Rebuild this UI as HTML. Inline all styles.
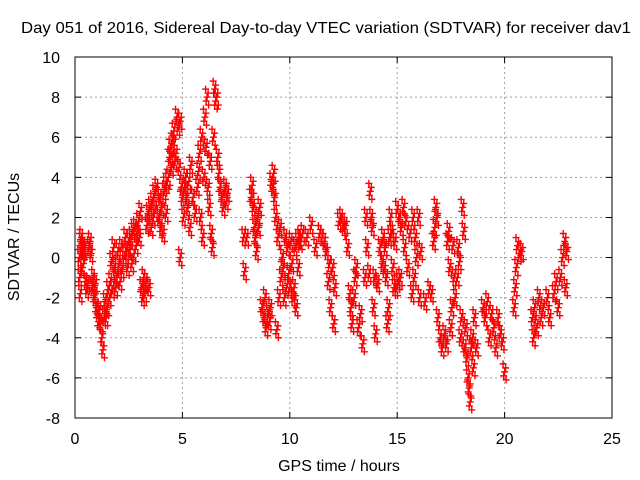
<!DOCTYPE html>
<html><head><meta charset="utf-8"><style>
body{margin:0;background:#fff;}
svg{display:block;font-family:"Liberation Sans",sans-serif;}
</style></head><body>
<svg id="chart" width="640" height="480" viewBox="0 0 640 480">
<rect width="640" height="480" fill="#fff"/>
<text x="326" y="33" font-size="16" text-anchor="middle" textLength="610" lengthAdjust="spacingAndGlyphs">Day 051 of 2016, Sidereal Day-to-day VTEC variation (SDTVAR) for receiver dav1</text>
<text x="339" y="471" font-size="16" text-anchor="middle">GPS time / hours</text>
<text transform="translate(19,237) rotate(-90)" font-size="16" text-anchor="middle">SDTVAR / TECUs</text>
<g id="grid"></g><g id="ticks"></g><g id="marks"></g>
<rect x="75" y="57" width="537" height="361" fill="none" stroke="#000" stroke-width="1"/>
</svg>
<script>
const xTicks=[0,5,10,15,20,25];
const yTicks=[-8,-6,-4,-2,0,2,4,6,8,10];
const times=[0.2,0.22,0.25,0.28,0.3,0.32,0.35,0.38,0.4,0.45,0.5,0.55,0.6,0.65,0.7,0.75,0.8,0.85,0.9,0.95,1.0,1.05,1.1,1.15,1.2,1.25,1.3,1.35,1.4,1.45,1.5,1.55,1.6,1.65,1.7,1.75,1.8,1.85,1.9,1.95,2.0,2.05,2.1,2.15,2.2,2.3,2.35,2.4,2.45,2.5,2.55,2.6,2.65,2.7,2.75,2.8,2.85,2.9,2.95,3.0,3.05,3.1,3.15,3.2,3.25,3.3,3.35,3.4,3.45,3.5,3.55,3.6,3.65,3.7,3.75,3.8,3.9,3.95,4.0,4.05,4.1,4.15,4.2,4.25,4.3,4.35,4.4,4.45,4.5,4.55,4.6,4.65,4.7,4.75,4.8,4.85,4.9,4.95,4.9,5.0,5.05,5.1,5.15,5.2,5.25,5.3,5.35,5.4,5.5,5.6,5.7,5.75,5.8,5.85,5.9,5.95,6.0,6.05,6.1,6.15,6.2,6.25,6.3,6.35,6.4,6.45,6.5,6.55,6.6,6.65,6.7,6.75,6.85,6.9,7.0,7.05,7.1,7.9,7.85,8.0,8.2,8.25,8.3,8.35,8.4,8.45,8.5,8.55,8.6,8.7,8.8,8.85,8.9,9.0,9.05,9.1,9.15,9.2,9.25,9.3,9.35,9.4,9.45,9.5,9.55,9.6,9.65,9.7,9.75,9.8,9.85,9.9,9.95,10.0,10.05,10.1,10.15,10.2,10.25,10.3,10.35,10.4,10.45,10.5,10.6,10.8,11.0,11.2,11.4,11.5,11.6,11.7,11.8,11.85,11.9,12.0,12.05,12.1,12.3,12.4,12.5,12.6,12.7,12.8,12.85,12.9,13.0,13.05,13.1,13.2,13.3,13.4,13.5,13.55,13.6,13.7,13.75,13.8,13.85,13.9,13.95,14.0,14.1,14.2,14.3,14.35,14.4,14.45,14.5,14.55,14.6,14.65,14.7,14.75,14.8,14.85,14.9,14.95,15.0,15.05,15.1,15.15,15.2,15.3,15.35,15.4,15.5,15.6,15.7,15.75,15.8,15.85,15.9,16.0,16.05,16.1,16.3,16.5,16.6,16.7,16.75,16.8,16.85,16.9,17.0,17.1,17.2,17.3,17.35,17.4,17.45,17.5,17.55,17.6,17.65,17.7,17.8,17.85,17.9,17.95,18.0,18.05,18.1,18.15,18.2,18.25,18.3,18.35,18.4,18.45,18.5,18.55,18.6,18.7,19.0,19.1,19.2,19.3,19.4,19.5,19.6,19.7,19.8,19.9,20.0,20.45,20.5,20.55,20.6,20.7,20.8,21.3,21.35,21.4,21.5,21.6,21.7,21.8,22.0,22.1,22.3,22.4,22.5,22.6,22.7,22.8,22.85,22.9];
const values=[0,-1,-1.8,0.8,1,0.5,-0.5,0.3,0.6,0.4,-1.2,-1.6,-1.3,0.5,0.8,0.2,-1.5,-1.0,-2,-1.3,-2.5,-2.8,-3.2,-2.6,-3.3,-4.0,-4.6,-3.0,-2.2,-3.0,-2.5,-1.6,-2.0,-1.2,-0.2,-1.6,0.5,-0.5,-1.5,-1.0,0.3,-0.3,-1.2,0.5,-0.6,0.1,1.0,0.3,-0.5,0.8,0.4,1.0,-0.3,1.3,0.2,1.5,0.6,1.2,1.8,1.0,2.3,-1.5,-2.0,-1.0,-1.8,-1.2,1.6,2.2,-1.5,2.5,1.5,2.8,2.0,3.2,2.4,3.5,2.0,3.0,1.5,2.5,1.2,3.3,3.6,2.2,3.8,4.0,5.0,5.5,4.5,5.8,6.3,4.8,5.2,7.0,6.5,4.5,6.8,3.5,0.0,3.0,2.0,3.5,4.0,3.0,2.5,3.8,1.5,4.6,3.0,2.2,3.5,4.3,5.2,2.0,6.0,1.0,4.0,7.0,5.5,8.0,3.5,2.5,4.8,1.2,0.5,6.0,8.4,7.8,8.0,5.0,4.2,3.5,3.0,2.5,3.5,2.8,3.2,-0.7,1.0,1.0,3.0,3.6,2.5,1.5,1.0,0.3,2.0,1.5,2.5,-2.5,-3.0,-2.0,-3.5,-2.8,-3.2,-2.5,3.8,3.5,4.2,3.0,2.0,-3.6,1.0,-2.0,1.5,-1.0,0.0,-0.5,-2.0,1.0,-1.5,0.5,-0.8,-1.5,0.8,-0.3,-2.0,-1.5,0.5,-2.5,0.8,-0.5,1.0,0.8,1.2,1.0,1.6,0.5,1.2,1.0,0.8,0.3,-1.2,-0.3,-2.5,-0.5,-3.3,-1.5,1.8,2.0,1.5,1.6,0.5,-1.8,-2.5,-3.3,-2.0,-1.0,-0.5,-3.5,-2.8,-4.3,-1.0,2.0,0.5,-0.8,3.3,2.0,1.5,-2.5,-1.0,-3.8,-1.3,0.5,-0.3,1.0,-0.6,0.5,-1.0,-3.3,-2.5,1.0,2.0,1.2,-0.5,-1.5,0.8,-1.5,2.4,-1.2,2.0,-1.0,1.5,2.5,0.5,1.8,-0.5,1.2,-1.8,2.0,-1.0,1.0,0.0,2.0,-2.0,0.3,-2.2,-1.6,-1.8,0.8,1.5,2.5,2.0,-3.0,-4.0,-4.5,-3.8,-4.3,0.8,1.3,-0.5,-3.5,-2.5,0.6,-1.0,-2.0,-1.0,0.5,-0.2,-4.0,-3.0,2.5,1.3,-4.5,-3.5,-5.0,-6.0,-6.5,-7.2,-4.5,-4.0,-5.5,-3.0,-4.5,-2.5,-3.0,-2.2,-4.0,-2.8,-3.5,-4.5,-3.0,-3.8,-4.2,-5.7,-2.5,-1.5,-0.5,0.6,0.2,0.3,-3.0,-4.0,-2.5,-3.5,-2.0,-3.0,-2.5,-2.0,-3.0,-1.8,-1.2,-2.5,-1.0,0.0,0.8,-1.5,0.3];
const X0=75,X1=612,Y0=418,Y1=57;
const xs=t=>X0+(t-0)/(25-0)*(X1-X0);
const ys=v=>Y0-(v+8)/(10+8)*(Y0-Y1);
const NS='http://www.w3.org/2000/svg';
const grid=document.getElementById('grid'),ticks=document.getElementById('ticks'),marks=document.getElementById('marks');
function mk(tag,attrs,parent){const e=document.createElementNS(NS,tag);for(const k in attrs)e.setAttribute(k,attrs[k]);parent.appendChild(e);return e;}
xTicks.forEach(t=>{const x=xs(t);
 if(t>0&&t<25){const g=mk('line',{x1:x,x2:x,y1:Y1,y2:Y0,stroke:'#a0a0a0','stroke-dasharray':'2,3'},grid);
 
 }
 const tk=mk('path',{d:`M${x},${Y0}v-6M${x},${Y1}v6`,stroke:'#000'},ticks);
 
 
 const l=mk('text',{x:x,y:444,'font-size':'16','text-anchor':'middle'},ticks);l.textContent=t;
 
 
});
yTicks.forEach(v=>{const y=ys(v);
 if(v>-8&&v<10){const g=mk('line',{x1:X0,x2:X1,y1:y,y2:y,stroke:'#a0a0a0','stroke-dasharray':'2,3'},grid);
 
 }
 const tk=mk('path',{d:`M${X0},${y}h6M${X1},${y}h-6`,stroke:'#000'},ticks);
 
 
 const l=mk('text',{x:60,y:y+6,'font-size':'16','text-anchor':'end'},ticks);l.textContent=v;
 
 
});
let d='';
times.forEach((t,i)=>{const x=xs(t),y=ys(values[i]);
 for(const o of [[-1.5,-8],[1,-4],[0,0],[-1,4],[1.5,8]]){const xx=x+o[0],yy=y+o[1];d+=`M${xx-3.5},${yy}h7M${xx},${yy-3.5}v7`;}
});
const p=mk('path',{d:d,stroke:'#ff0000','stroke-width':'1.4',fill:'none'},marks);


</script>
</body></html>
